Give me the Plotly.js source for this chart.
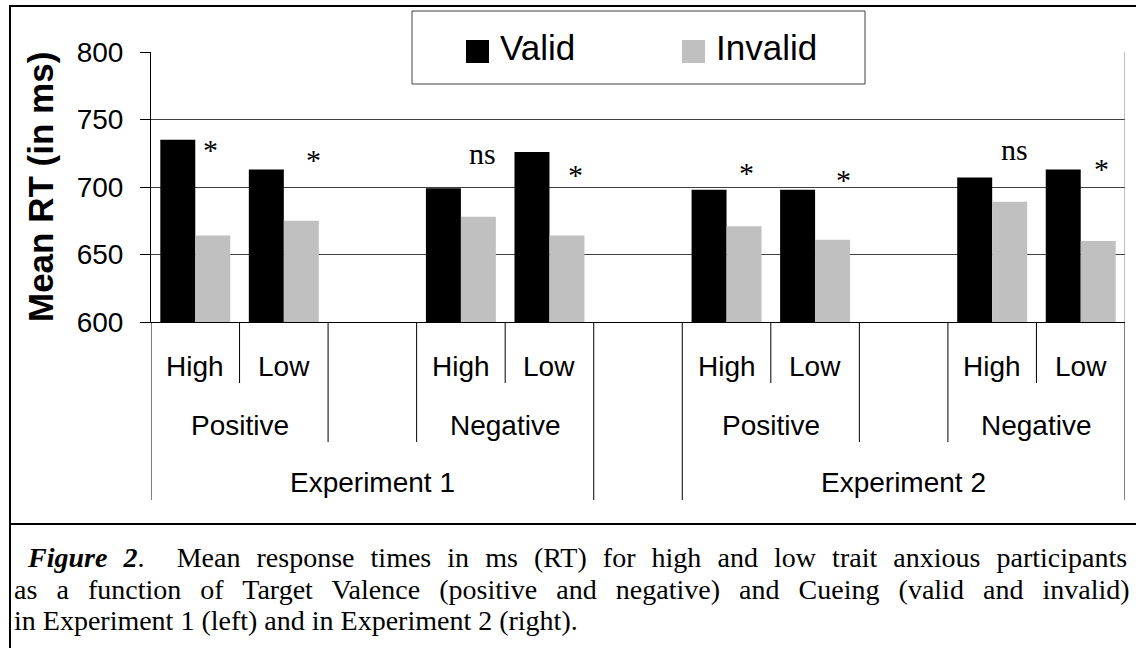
<!DOCTYPE html>
<html>
<head>
<meta charset="utf-8">
<script src="https://cdn.plot.ly/plotly-3.0.1.min.js"></script>
<style>
  html, body { margin: 0; padding: 0; background: #fff; }
  #chart { width: 1136px; height: 648px; }
</style>
</head>
<body>
<div id="chart"></div>
<script>
// ---- data ----
const experimentLevels = ['Experiment 1', 'Experiment 2'];
const valenceLevels = ['Positive', 'Negative'];
const anxietyLevels = ['High', 'Low'];
const seriesNames = ['Valid', 'Invalid'];
// order: Exp1 Pos High, Exp1 Pos Low, Exp1 Neg High, Exp1 Neg Low, Exp2 Pos High, Exp2 Pos Low, Exp2 Neg High, Exp2 Neg Low
const validRT = [735, 713, 699, 726, 698, 698, 707, 713];
const invalidRT = [664, 675, 678, 664, 671, 661, 689, 660];
const significance = ['*', '*', 'ns', '*', '*', '*', 'ns', '*'];
const yTicks = [600, 650, 700, 750, 800];
const yTitle = 'Mean RT (in ms)';
const captionLines = [
  '<b><i>Figure 2</i></b>.  Mean response times in ms (RT) for high and low trait anxious participants',
  'as a function of Target Valence (positive and negative) and Cueing (valid and invalid)',
  'in Experiment 1 (left) and in Experiment 2 (right).'
];

// ---- layout helpers (positions, not data) ----
const sigOffset = [0.17, 0.33, 0.24, 0.29, 0.22, 0.32, 0.25, 0.23];
const sigLevel = [728, 720.5, 725, 709.5, 710.5, 705.5, 727.5, 713.5];

const SANS = 'Liberation Sans, Arial, sans-serif';
const SERIF = 'Liberation Serif, Times New Roman, serif';

// slot positions: exp*6 + valence*3 + anxiety
const slots = [];
for (let e = 0; e < experimentLevels.length; e++)
  for (let v = 0; v < valenceLevels.length; v++)
    for (let a = 0; a < anxietyLevels.length; a++)
      slots.push(e * 6 + v * 3 + a);

const traces = [
  { type: 'bar', name: seriesNames[0], x: slots, y: validRT,
    marker: { color: '#000000', line: { width: 0 } }, hoverinfo: 'skip' },
  { type: 'bar', name: seriesNames[1], x: slots, y: invalidRT,
    marker: { color: '#c0c0c0', line: { width: 0 } }, hoverinfo: 'skip' }
];

// pixel -> paper helpers (plot area: x 151..1125, y 52..322)
const px = p => (p - 151) / 974;
const py = p => (322 - p) / 270;

const annotations = [];
const shapes = [];

// significance labels
slots.forEach((s, i) => {
  annotations.push({
    x: s + sigOffset[i], y: sigLevel[i], xref: 'x', yref: 'y',
    text: significance[i], showarrow: false, xanchor: 'center', yanchor: 'middle',
    font: { family: SERIF, size: 30, color: '#000' }
  });
});

const catFont = { family: SANS, size: 28, color: '#000' };
// hierarchical category labels
for (let e = 0; e < experimentLevels.length; e++) {
  annotations.push({
    x: e * 6 + 2, y: py(482), xref: 'x', yref: 'paper', text: experimentLevels[e],
    showarrow: false, xanchor: 'center', yanchor: 'middle', font: catFont
  });
  for (let v = 0; v < valenceLevels.length; v++) {
    annotations.push({
      x: e * 6 + v * 3 + 0.5, y: py(425), xref: 'x', yref: 'paper', text: valenceLevels[v],
      showarrow: false, xanchor: 'center', yanchor: 'middle', font: catFont
    });
    for (let a = 0; a < anxietyLevels.length; a++) {
      annotations.push({
        x: e * 6 + v * 3 + a, y: py(366), xref: 'x', yref: 'paper', text: anxietyLevels[a],
        showarrow: false, xanchor: 'center', yanchor: 'middle', font: catFont
      });
    }
    // separator between High and Low
    shapes.push({ type: 'line', xref: 'x', yref: 'paper', x0: e * 6 + v * 3 + 0.5, x1: e * 6 + v * 3 + 0.5,
      y0: 0, y1: py(383), line: { color: '#000', width: 1 } });
  }
  // valence group boundaries (positive right edge, negative left edge)
  [e * 6 + 1.5, e * 6 + 2.5].forEach(xv => shapes.push({ type: 'line', xref: 'x', yref: 'paper',
    x0: xv, x1: xv, y0: 0, y1: py(442), line: { color: '#000', width: 1 } }));
}
// experiment boundaries
[-0.5, 4.5, 5.5, 10.5].forEach(xv => shapes.push({ type: 'line', xref: 'x', yref: 'paper',
  x0: xv, x1: xv, y0: 0, y1: py(500), line: { color: '#000', width: 1 } }));

// right plot-area border
shapes.push({ type: 'line', xref: 'x', yref: 'paper', x0: 10.5, x1: 10.5, y0: 0, y1: 1,
  line: { color: '#808080', width: 1 } });

// custom legend box
shapes.push({ type: 'rect', xref: 'paper', yref: 'paper', x0: px(412), x1: px(865), y0: py(84), y1: py(11),
  fillcolor: '#ffffff', line: { color: '#404040', width: 1 }, layer: 'above' });
shapes.push({ type: 'rect', xref: 'paper', yref: 'paper', x0: px(466), x1: px(489), y0: py(63), y1: py(40),
  fillcolor: '#000000', line: { width: 0 }, layer: 'above' });
shapes.push({ type: 'rect', xref: 'paper', yref: 'paper', x0: px(682), x1: px(705), y0: py(63), y1: py(40),
  fillcolor: '#c0c0c0', line: { width: 0 }, layer: 'above' });
annotations.push({ x: px(498), y: py(48), xref: 'paper', yref: 'paper', text: seriesNames[0],
  showarrow: false, xanchor: 'left', yanchor: 'middle', font: { family: SANS, size: 35, color: '#000' } });
annotations.push({ x: px(714), y: py(48), xref: 'paper', yref: 'paper', text: seriesNames[1],
  showarrow: false, xanchor: 'left', yanchor: 'middle', font: { family: SANS, size: 35, color: '#000' } });

// y-axis title
annotations.push({ x: px(40), y: py(187), xref: 'paper', yref: 'paper', text: '<b>' + yTitle + '</b>',
  textangle: -90, showarrow: false, xanchor: 'center', yanchor: 'middle',
  font: { family: SANS, size: 35, color: '#000' } });

// outer frame and caption separator
shapes.push({ type: 'line', xref: 'paper', yref: 'paper', x0: px(9), x1: px(1140), y0: py(6), y1: py(6),
  line: { color: '#000', width: 2 } });
shapes.push({ type: 'line', xref: 'paper', yref: 'paper', x0: px(10), x1: px(10), y0: py(5), y1: py(660),
  line: { color: '#000', width: 2 } });
shapes.push({ type: 'line', xref: 'paper', yref: 'paper', x0: px(9), x1: px(1140), y0: py(524), y1: py(524),
  line: { color: '#000', width: 2 } });

// caption (first two lines justified through word spacing)
const capY = [557, 589, 620];
const capX = [25, 12, 12];
const capWordSpacing = [9.1, 12.1, 0];
captionLines.forEach((t, i) => annotations.push({
  x: px(capX[i]), y: py(capY[i]), xref: 'paper', yref: 'paper',
  text: capWordSpacing[i] ? '<span style="word-spacing:' + capWordSpacing[i] + 'px">' + t + '</span>' : t,
  showarrow: false, xanchor: 'left', yanchor: 'middle', font: { family: SERIF, size: 28, color: '#000' }
}));

const layout = {
  width: 1136, height: 648,
  margin: { l: 151, r: 11, t: 52, b: 326, pad: 0 },
  paper_bgcolor: '#ffffff', plot_bgcolor: '#ffffff',
  showlegend: false,
  barmode: 'group', bargap: 0.21, bargroupgap: 0,
  xaxis: { range: [-0.5, 10.5], showgrid: false, zeroline: false, showline: true,
    linecolor: '#000', linewidth: 1, ticks: '', showticklabels: false, fixedrange: true },
  yaxis: { range: [600, 800], tickvals: yTicks, ticktext: yTicks.map(String), showgrid: true,
    gridcolor: '#404040', gridwidth: 1, zeroline: false, showline: true, linecolor: '#000', linewidth: 1,
    ticks: 'outside', ticklen: 10, tickcolor: '#000', tickwidth: 1, ticklabelstandoff: 11,
    tickfont: { family: SANS, size: 28, color: '#000' }, fixedrange: true },
  annotations: annotations,
  shapes: shapes
};

Plotly.newPlot('chart', traces, layout, { displayModeBar: false, staticPlot: true });
</script>
</body>
</html>
